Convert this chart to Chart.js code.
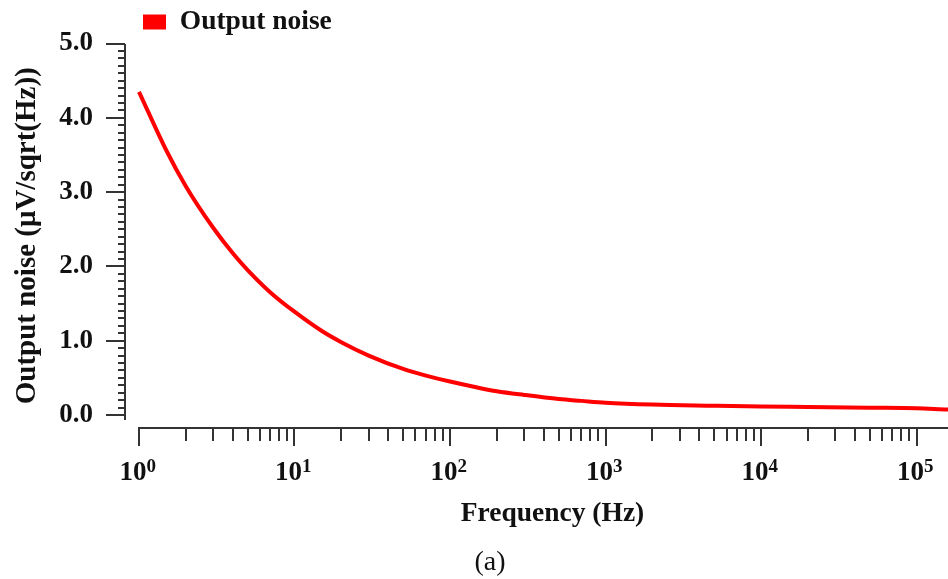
<!DOCTYPE html>
<html lang="en">
<head>
<meta charset="UTF-8" />
<title>Output noise vs frequency</title>
<script src="https://cdn.jsdelivr.net/npm/chart.js"></script>
<style>
  html, body { margin: 0; padding: 0; background: #fff; overflow: hidden; }
  /* the figure is cropped on the right, so the canvas runs past the window */
  #wrap { width: 980px; height: 579px; }
</style>
</head>
<body>
<div id="wrap"><canvas id="noiseChart"></canvas></div>
<script>
  // values (Hz, uV/sqrt(Hz))
  const freqHz = [1, 1.5, 2, 3, 4, 5, 7, 10, 15, 20, 30, 50, 70, 100, 150, 200, 300, 500, 700,
                  1000, 2000, 5000, 10000, 20000, 50000, 100000, 160000, 250000];
  const noise  = [4.35, 3.56, 3.08, 2.52, 2.18, 1.95, 1.65, 1.39, 1.13, 0.98, 0.80, 0.62, 0.53, 0.45, 0.37, 0.32, 0.27, 0.215, 0.19,
                  0.165, 0.14, 0.125, 0.115, 0.108, 0.098, 0.09, 0.075, 0.065];
  const xMajorTicks = [1, 10, 100, 1000, 10000, 100000];
  const xTickExponents = ['0', '1', '2', '3', '4', '5'];
  const yMajorTicks = [0, 1, 2, 3, 4, 5];
  const yTickLabels = ['0.0', '1.0', '2.0', '3.0', '4.0', '5.0'];

  const serif = "'Liberation Serif', 'Times New Roman', serif";
  const ink = '#111';

  // minor tick positions (2..9 per decade, 0.1 steps on y)
  const xMinor = [];
  for (let d = 1; d <= 100000; d *= 10) {
    for (let k = 2; k <= 9; k++) xMinor.push(d * k);
  }
  const yMinor = [];
  for (let i = 1; i < 50; i++) if (i % 10) yMinor.push(i / 10);

  // detached axis lines with long/short tick marks, plus the decade exponents
  const axisPlugin = {
    id: 'axisLines',
    afterDraw(chart) {
      const { ctx, chartArea, scales: { x, y } } = chart;
      const r = Math.round;
      ctx.save();
      ctx.strokeStyle = '#333';
      ctx.lineWidth = 2;
      ctx.beginPath();
      const yl = r(chartArea.left);
      ctx.moveTo(yl, r(y.getPixelForValue(5)));
      ctx.lineTo(yl, r(y.getPixelForValue(-0.07)));
      yMajorTicks.forEach(v => { const p = r(y.getPixelForValue(v)); ctx.moveTo(yl - 19, p); ctx.lineTo(yl, p); });
      yMinor.forEach(v => { const p = r(y.getPixelForValue(v)); ctx.moveTo(yl - 7, p); ctx.lineTo(yl, p); });

      const xb = r(chartArea.bottom);
      ctx.moveTo(r(x.getPixelForValue(1)) - 1, xb);
      ctx.lineTo(chartArea.right, xb);
      xMajorTicks.forEach(v => { const p = r(x.getPixelForValue(v)); ctx.moveTo(p, xb); ctx.lineTo(p, xb + 18); });
      xMinor.forEach(v => { const p = r(x.getPixelForValue(v)); ctx.moveTo(p, xb); ctx.lineTo(p, xb + 13); });
      ctx.stroke();

      // superscripts after each "10"
      ctx.font = 'bold 27px ' + serif;
      const baseW = ctx.measureText('10').width;
      ctx.font = 'bold 19px ' + serif;
      ctx.fillStyle = ink;
      ctx.textAlign = 'left';
      ctx.textBaseline = 'alphabetic';
      xMajorTicks.forEach((v, i) => {
        const p = x.getPixelForValue(v) - 6 + baseW / 2;
        ctx.fillText(xTickExponents[i], p, xb + 44);
      });
      ctx.restore();
    }
  };

  new Chart(document.getElementById('noiseChart'), {
    type: 'line',
    data: {
      datasets: [{
        label: 'Output noise',
        data: freqHz.map((f, i) => ({ x: f, y: noise[i] })),
        borderColor: '#ff0000',
        backgroundColor: '#ff0000',
        borderWidth: 4,
        pointRadius: 0,
        cubicInterpolationMode: 'monotone',
        fill: false
      }]
    },
    options: {
      responsive: true,
      maintainAspectRatio: false,
      animation: false,
      events: [],
      layout: { padding: { top: -9.75, right: 0, left: 0, bottom: 0 } },
      plugins: {
        legend: {
          position: 'top',
          align: 'start',
          fullSize: false,
          maxHeight: 53.25,
          labels: {
            padding: 18,
            boxWidth: 23,
            boxHeight: 15,
            color: ink,
            font: { family: serif, size: 27.5, weight: 'bold' },
            generateLabels: chart => Chart.defaults.plugins.legend.labels.generateLabels(chart)
              .map(l => ({ ...l, lineWidth: 0 }))
          }
        },
        tooltip: { enabled: false },
        subtitle: {
          display: true,
          text: '(a)',
          position: 'bottom',
          color: ink,
          font: { family: serif, size: 28, weight: 'normal' },
          padding: { top: 0, bottom: 0 }
        }
      },
      scales: {
        x: {
          type: 'logarithmic',
          min: 0.813,
          max: 256000,
          grid: { display: false, drawTicks: false },
          border: { display: false },
          afterBuildTicks: s => { s.ticks = xMajorTicks.map(v => ({ value: v })); },
          afterFit: s => { s.height = 117.4; },
          ticks: {
            padding: 29,
            labelOffset: -6,
            autoSkip: false,
            maxRotation: 0,
            color: ink,
            font: { family: serif, size: 27, weight: 'bold' },
            callback: () => '10'
          },
          title: {
            display: true,
            text: 'Frequency (Hz)',
            color: ink,
            font: { family: serif, size: 27.5, weight: 'bold' },
            padding: { top: 0, bottom: 15 }
          }
        },
        y: {
          min: -0.175,
          max: 5,
          grid: { display: false, drawTicks: false },
          border: { display: false },
          afterBuildTicks: s => { s.ticks = yMajorTicks.map(v => ({ value: v })); },
          afterFit: s => { s.width = 125; },
          ticks: {
            padding: 32,
            color: ink,
            // small lineHeight so the top label does not push the plot down
            font: { family: serif, size: 27, weight: 'bold', lineHeight: 0.4 },
            callback: (v, i) => yTickLabels[i]
          },
          title: {
            display: true,
            text: 'Output noise (\u03BCV/sqrt(Hz))',
            color: ink,
            font: { family: serif, size: 29, weight: 'bold' },
            padding: { top: 10, bottom: 0 }
          }
        }
      }
    },
    plugins: [axisPlugin]
  });
</script>
</body>
</html>
